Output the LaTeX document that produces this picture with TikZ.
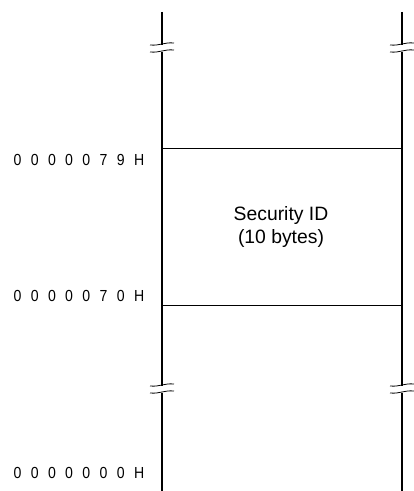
\documentclass[tikz,border=0pt]{standalone}
\usepackage{fontspec}
\setmainfont{Liberation Sans}
\newfontfamily\addrfont[WordSpace=2.4,FakeStretch=0.88]{Liberation Sans}
\usetikzlibrary{positioning}

\begin{document}
\begin{tikzpicture}[x=0.75pt,y=-0.75pt,
  wall/.style={line width=1.5pt},
  rowline/.style={line width=0.6pt},
  brk/.style={line width=0.6pt},
  addr/.style={anchor=east, font=\addrfont\fontsize{12}{14}\selectfont},
  field/.style={align=center, font=\fontsize{14.5}{17}\selectfont}]
\useasboundingbox (0,0) rectangle (413,491);

% memory map walls, broken twice
\foreach \x in {162,402} {
  \draw[wall] (\x,12) -- (\x,45);
  \draw[wall] (\x,52) -- (\x,386);
  \draw[wall] (\x,393) -- (\x,491);
  \foreach \y in {44,51,385,392}
    \draw[brk] (\x-12,\y+1) .. controls (\x-2,\y+2) and (\x+2,\y-2) .. (\x+12,\y-1);
}

% area boundaries
\coordinate (top79l) at (162,148);
\coordinate (top79r) at (402,148);
\coordinate (top70l) at (162,305);
\coordinate (top70r) at (402,305);
\draw[rowline] (top79l) -- (top79r);
\draw[rowline] (top70l) -- (top70r);

\node[field] (secid) at (281,227) {Security ID\\(10 bytes)};

% addresses
\node[addr] (a79) at (149,160) {0 0 0 0 0 7 9 H};
\node[addr] (a70) at (149,296) {0 0 0 0 0 7 0 H};
\node[addr] (a00) at (149,473) {0 0 0 0 0 0 0 H};

\end{tikzpicture}
\end{document}
